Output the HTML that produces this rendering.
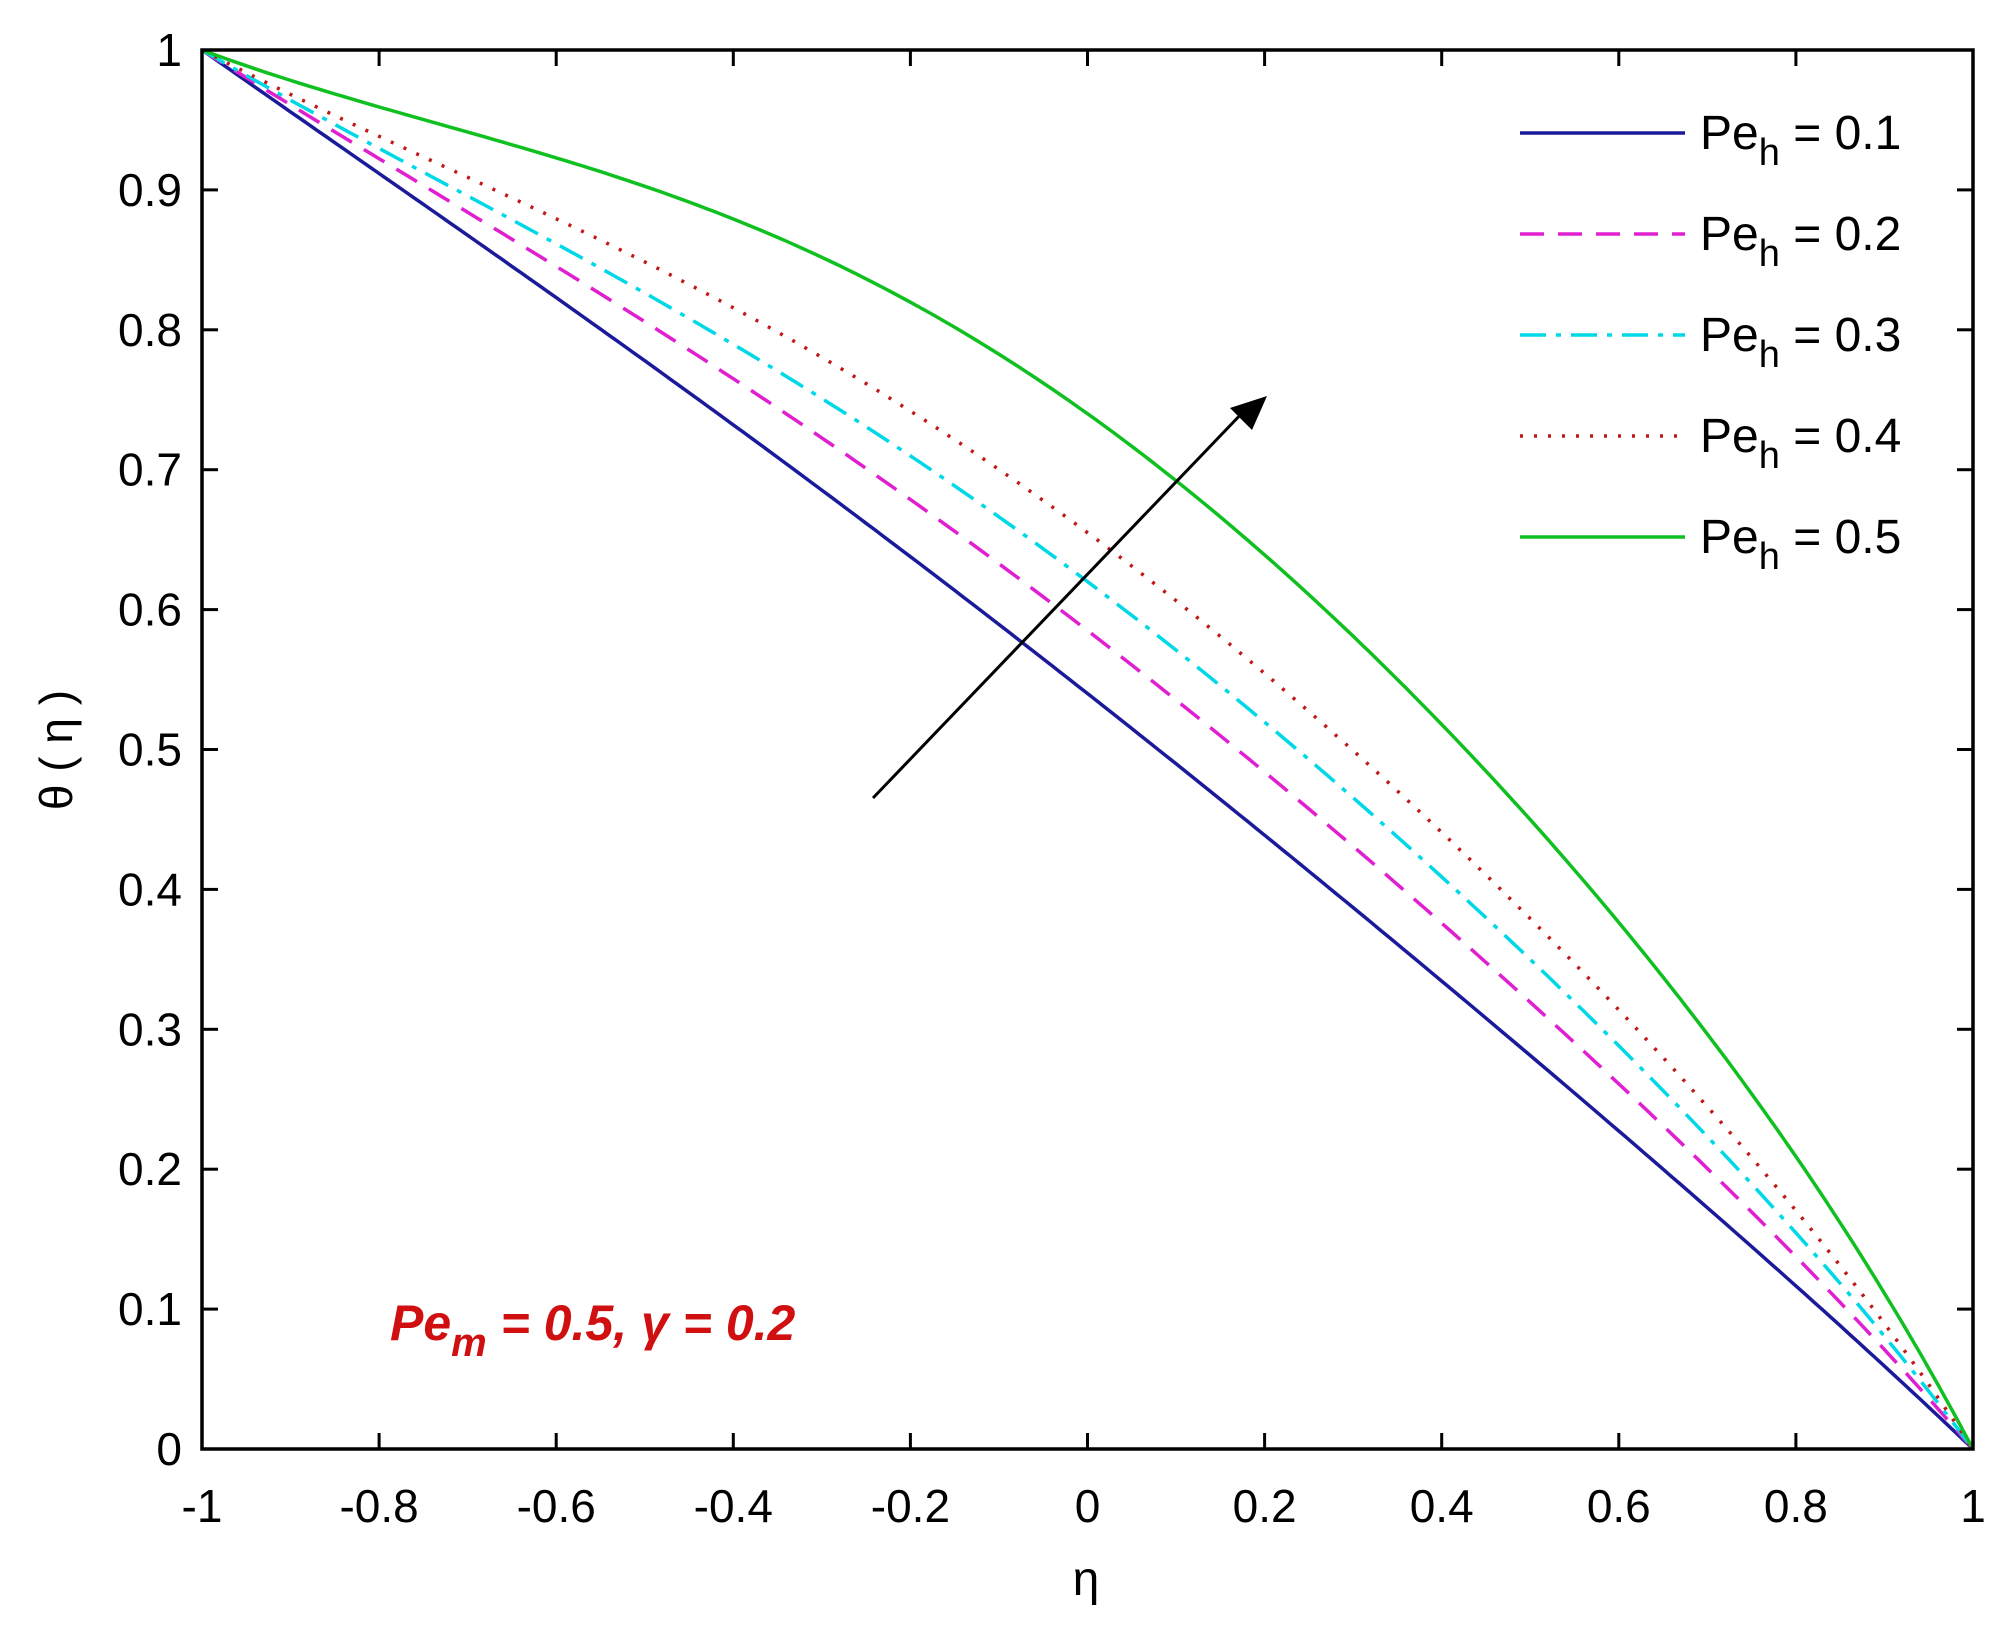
<!DOCTYPE html>
<html><head><meta charset="utf-8"><style>
html,body{margin:0;padding:0;background:#fff;}
svg{display:block;font-family:"Liberation Sans",Arial,sans-serif;}
</style></head><body>
<svg id="s" width="2014" height="1634" viewBox="0 0 2014 1634" xmlns="http://www.w3.org/2000/svg">
<rect width="2014" height="1634" fill="#fff"/>
<g id="curves"></g>
<rect x="202" y="50" width="1771" height="1399" fill="none" stroke="#000" stroke-width="3.5"/>
<g id="ticks" stroke="#000" stroke-width="3"></g>
<g id="labels" font-size="46" fill="#000"></g>
<text x="1086" y="1595" font-size="48" text-anchor="middle">η</text>
<text transform="translate(72,750) rotate(-90)" font-size="46" text-anchor="middle">θ  ( η )</text>
<line x1="873" y1="798" x2="1245" y2="410" stroke="#000" stroke-width="3"/>
<polygon points="1267,396 1230,408 1252,430" fill="#000"/>
<g id="legend" font-size="48"></g>
<text x="390" y="1340" font-size="50" font-weight="bold" font-style="italic" fill="#d01010">Pe<tspan font-size="40" dy="16">m</tspan><tspan dy="-16"> = 0.5, γ = 0.2</tspan></text>
</svg>
<script>
var NS="http://www.w3.org/2000/svg";
function X(e){return 202+(e+1)/2*1771;}
function Y(t){return 1449-t*1399;}
function el(p,n,a,txt){var e=document.createElementNS(NS,n);for(var k in a)e.setAttribute(k,a[k]);if(txt!==undefined)e.textContent=txt;p.appendChild(e);return e;}
var s=[
 {c:0.04,col:"#1a1a9a",d:"",a:0.3},
 {c:0.085,col:"#e020d0",d:"24,14",a:0.4},
 {c:0.12,col:"#00d8e8",d:"26,10,5,10",a:0.45},
 {c:0.155,col:"#c01818",d:"3,11",a:0.45},
 {c:0.24,col:"#10c020",d:"",a:0.45}];
var g=document.getElementById("curves");
s.forEach(function(o){var p="";for(var i=0;i<=200;i++){var e=-1+i/100;var t=(1-e)/2+o.c*(1-e*e)*(1+o.a*e)*(1+0.25*(1-e*e)*(-e));p+=(i?"L":"M")+X(e).toFixed(1)+","+Y(t).toFixed(1);}
 var a={d:p,fill:"none",stroke:o.col,"stroke-width":3.5};if(o.d)a["stroke-dasharray"]=o.d;el(g,"path",a);});
var tk=document.getElementById("ticks"),lb=document.getElementById("labels");
for(var i=0;i<=10;i++){var e=-1+i*0.2,x=X(e);el(tk,"line",{x1:x,y1:1449,x2:x,y2:1433});el(tk,"line",{x1:x,y1:50,x2:x,y2:66});
 var t=Math.abs(e)<1e-9?"0":(Math.round(e*10)/10).toString();el(lb,"text",{x:x,y:1522,"text-anchor":"middle"},t);}
for(var i=0;i<=10;i++){var v=i/10,y=Y(v);el(tk,"line",{x1:202,y1:y,x2:218,y2:y});el(tk,"line",{x1:1973,y1:y,x2:1957,y2:y});
 var t=i==0?"0":i==10?"1":v.toFixed(1);el(lb,"text",{x:182,y:y+16,"text-anchor":"end"},t);}
var lg=document.getElementById("legend");
s.forEach(function(o,k){var y=133+k*101;var a={x1:1520,y1:y,x2:1685,y2:y,stroke:o.col,"stroke-width":3.5};if(o.d)a["stroke-dasharray"]=o.d;el(lg,"line",a);
 var t=el(lg,"text",{x:1700,y:y+16});el(t,"tspan",{},"Pe");el(t,"tspan",{dy:16,"font-size":38},"h");el(t,"tspan",{dy:-16},' = 0.'+(k+1));});
</script>
</body></html>
